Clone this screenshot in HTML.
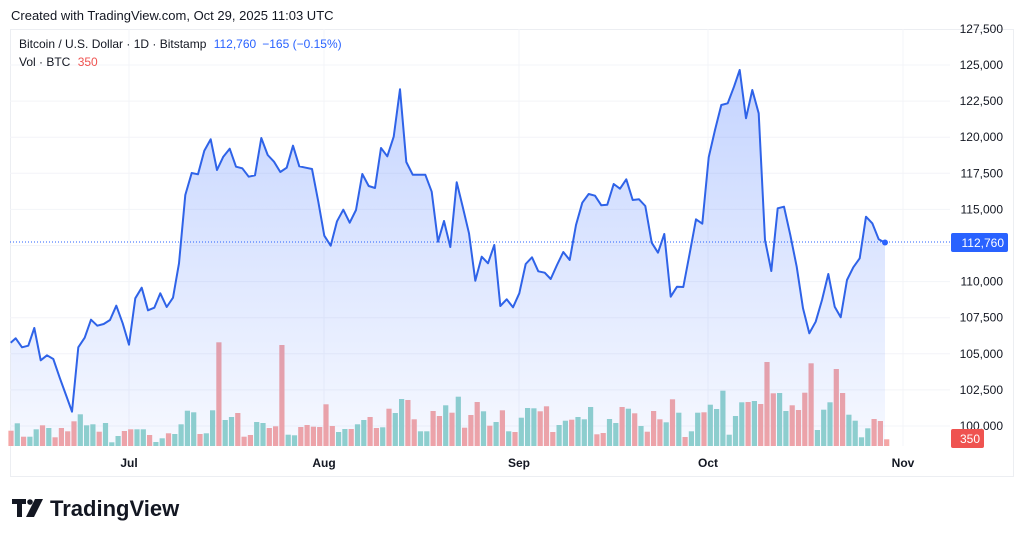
<!DOCTYPE html>
<html><head><meta charset="utf-8"><style>
html,body{margin:0;padding:0;background:#fff;width:1024px;height:539px;overflow:hidden}
svg text{font-family:"Liberation Sans","DejaVu Sans",sans-serif}
</style></head><body>
<svg id="s" width="1024" height="539" xmlns="http://www.w3.org/2000/svg">
<defs><linearGradient id="g" x1="0" y1="60" x2="0" y2="446" gradientUnits="userSpaceOnUse">
<stop offset="0" stop-color="#2962ff" stop-opacity="0.28"/><stop offset="1" stop-color="#2962ff" stop-opacity="0.04"/></linearGradient></defs>
<rect x="10.5" y="29.5" width="1003" height="447" fill="none" stroke="#eceef2"/>
<g id="grid" stroke="#f3f4f8" stroke-width="1"></g>
<g id="vol"></g>
<path id="area" fill="url(#g)"/>
<line x1="10" y1="242" x2="950" y2="242" stroke="#2962ff" stroke-width="1" stroke-dasharray="1,2"/>
<path id="line" fill="none" stroke="#2f63e8" stroke-width="2" stroke-linejoin="round"/>
<circle cx="885" cy="242.5" r="3" fill="#2962ff"/>
<g id="yl" font-size="12" fill="#131722" text-anchor="end"></g>
<rect x="951" y="233" width="57" height="19" rx="2" fill="#2962ff"/>
<text x="1004" y="247" font-size="12" fill="#fff" text-anchor="end">112,760</text>
<rect x="951" y="429" width="33" height="19" rx="2" fill="#ef5350"/>
<text x="980" y="443" font-size="12" fill="#fff" text-anchor="end">350</text>
<g font-size="12" fill="#131722" text-anchor="middle" font-weight="bold">
<text x="129" y="467">Jul</text><text x="324" y="467">Aug</text><text x="519" y="467">Sep</text><text x="708" y="467">Oct</text><text x="903" y="467">Nov</text></g>
<text x="11" y="20" font-size="13" fill="#131722">Created with TradingView.com, Oct 29, 2025 11:03 UTC</text>
<text x="19" y="48" font-size="12" fill="#131722">Bitcoin / U.S. Dollar · 1D · Bitstamp <tspan fill="#2962ff" dx="4">112,760</tspan><tspan fill="#2962ff" dx="6">−165 (−0.15%)</tspan></text>
<text x="19" y="66" font-size="12" fill="#131722">Vol · BTC <tspan fill="#ef5350" dx="4">350</tspan></text>
<g fill="#131722">
<rect x="12" y="499" width="14" height="5"/><rect x="17" y="499" width="5" height="18"/>
<circle cx="30" cy="502" r="2.8"/><polygon points="35,499 43,499 34,517 26,517"/>
</g>
<text x="50" y="516" font-size="22" font-weight="bold" fill="#131722">TradingView</text>
</svg>
<script>
var NS="http://www.w3.org/2000/svg";
function el(t,a,p){var e=document.createElementNS(NS,t);for(var k in a)e.setAttribute(k,a[k]);document.getElementById(p).appendChild(e);return e;}
var p1=[[32,848],[47,835],[66,862],[85,857],[103,804],[122,901],[141,886],[160,897],[179,953],[198,1005],[216,1055],[235,862],[254,833],[273,779],[292,797],[311,792],[330,780],[349,737],[368,790],[387,854],[406,715],[425,683],[444,751],[463,743],[481,700],[500,741],[519,713],[537,610],[556,405],[575,339],[594,343],[613,272],[632,238],[651,330],[670,290],[689,266],[708,320],[727,325],[746,350],[765,346],[784,234],[803,285],[822,305],[841,336],[860,323],[879,257],[898,319],[917,323],[936,327],[955,425],[973,527],[992,557],[1011,484],[1030,449],[1049,488],[1068,450],[1087,342],[1106,378],[1125,384],[1143,264],[1162,289],[1181,230],[1200,88],[1219,306],[1238,344],[1257,344],[1276,344],[1295,395],[1314,545],[1332,483],[1351,561],[1370,367]];
var p2=[[68,440],[87,520],[106,662],[125,590],[144,610],[163,555],[181,738],[200,718],[219,742],[238,700],[257,612],[276,592],[295,634],[314,638],[332,657],[351,615],[370,576],[389,600],[408,495],[427,428],[446,402],[465,407],[484,436],[502,434],[521,372],[540,386],[559,358],[578,420],[597,418],[616,438],[635,548],[654,578],[673,522],[692,710],[711,680],[730,681],[749,580],[768,478],[787,491],[806,292],[825,210],[844,135],[863,130],[882,80],[899,30],[918,175],[937,90],[956,160],[975,540],[994,633],[1013,445],[1032,440],[1051,525],[1070,620],[1089,745],[1108,820],[1127,785],[1146,720],[1165,642],[1184,740],[1202,772],[1221,660],[1240,622],[1259,595],[1278,470],[1297,490],[1316,538],[1335,548]];
var pts=p1.map(function(p){return [p[0]/3,p[1]/3+60]}).concat(p2.map(function(p){return [p[0]/3+440,p[1]/3+60]}));
var d="M"+pts.map(function(p){return p[0].toFixed(1)+","+p[1].toFixed(1)}).join("L");
document.getElementById("line").setAttribute("d",d);
document.getElementById("area").setAttribute("d",d+"L"+pts[pts.length-1][0].toFixed(1)+",446L"+pts[0][0].toFixed(1)+",446Z");
for(var i=0;i<=10;i++){var v=100000+i*2500;var y=426-(v-100000)/1000*14.44;
 el("line",{x1:10,x2:950,y1:y,y2:y},"grid");
 var t=el("text",{x:1003,y:y+4},"yl");t.textContent=v.toLocaleString("en-US");}
var t=el("text",{x:1003,y:33},"yl");t.textContent="127,500";
[129,324,519,708,903].forEach(function(x){el("line",{x1:x,x2:x,y1:29,y2:446},"grid");});
var v1=[[392,'r'],[370,'g'],[410,'r'],[410,'g'],[388,'g'],[376,'r'],[384,'g'],[412,'r'],[384,'r'],[394,'r'],[364,'r'],[343,'g'],[376,'g'],[373,'g'],[395,'r'],[369,'g'],[427,'g'],[408,'g'],[393,'r'],[388,'r'],[388,'g'],[388,'g'],[405,'r'],[426,'g'],[415,'g'],[400,'r'],[402,'g'],[373,'g'],[332,'g'],[337,'g'],[402,'r'],[400,'g'],[331,'g'],[127,'r'],[360,'g'],[351,'g'],[339,'r'],[410,'r'],[405,'r'],[366,'g'],[369,'g'],[384,'r'],[379,'r'],[135,'r'],[404,'g'],[406,'g'],[381,'r'],[375,'r'],[380,'r'],[381,'r'],[313,'r'],[378,'r'],[396,'g'],[387,'g'],[387,'r'],[373,'g'],[360,'g'],[351,'r'],[384,'r'],[382,'g'],[326,'r'],[339,'g'],[297,'g'],[300,'r'],[358,'r'],[394,'g'],[394,'g'],[333,'r'],[348,'r']];
var vols=v1.map(function(v){return [v[0]/3+300,v[1]]});
var v2=[[166,'g'],[188,'r'],[140,'g'],[233,'r'],[195,'r'],[156,'r'],[184,'g'],[227,'r'],[216,'g'],[181,'r'],[244,'g'],[246,'r'],[203,'g'],[174,'g'],[175,'g'],[184,'r'],[169,'r'],[246,'r'],[225,'g'],[212,'g'],[209,'r'],[201,'g'],[208,'g'],[171,'g'],[253,'r'],[249,'r'],[207,'g'],[219,'g'],[171,'r'],[176,'g'],[190,'r'],[228,'g'],[245,'r'],[183,'r'],[208,'r'],[217,'g'],[148,'r'],[188,'g'],[261,'r'],[244,'g'],[188,'g'],[187,'r'],[164,'g'],[177,'g'],[122,'g'],[254,'g'],[198,'g'],[157,'g'],[156,'r'],[153,'g'],[162,'r'],[36,'r'],[130,'r'],[129,'g'],[183,'g'],[166,'r'],[180,'r'],[128,'r'],[40,'r'],[240,'g'],[179,'g'],[157,'g'],[57,'r'],[129,'r'],[194,'g'],[212,'g'],[262,'g'],[235,'g'],[207,'r'],[213,'r'],[268,'r']];
vols=vols.concat(v2.map(function(v){return [v[0]/3+350,v[1]]}));
vols.forEach(function(v,i){var x=11+i*6.3;el("rect",{x:(x-2.6).toFixed(1),y:v[0].toFixed(1),width:5.2,height:(446-v[0]).toFixed(1),fill:v[1]=='g'?'#92d3cc':'#f5a6a5'},"vol");});
</script>
</body></html>
